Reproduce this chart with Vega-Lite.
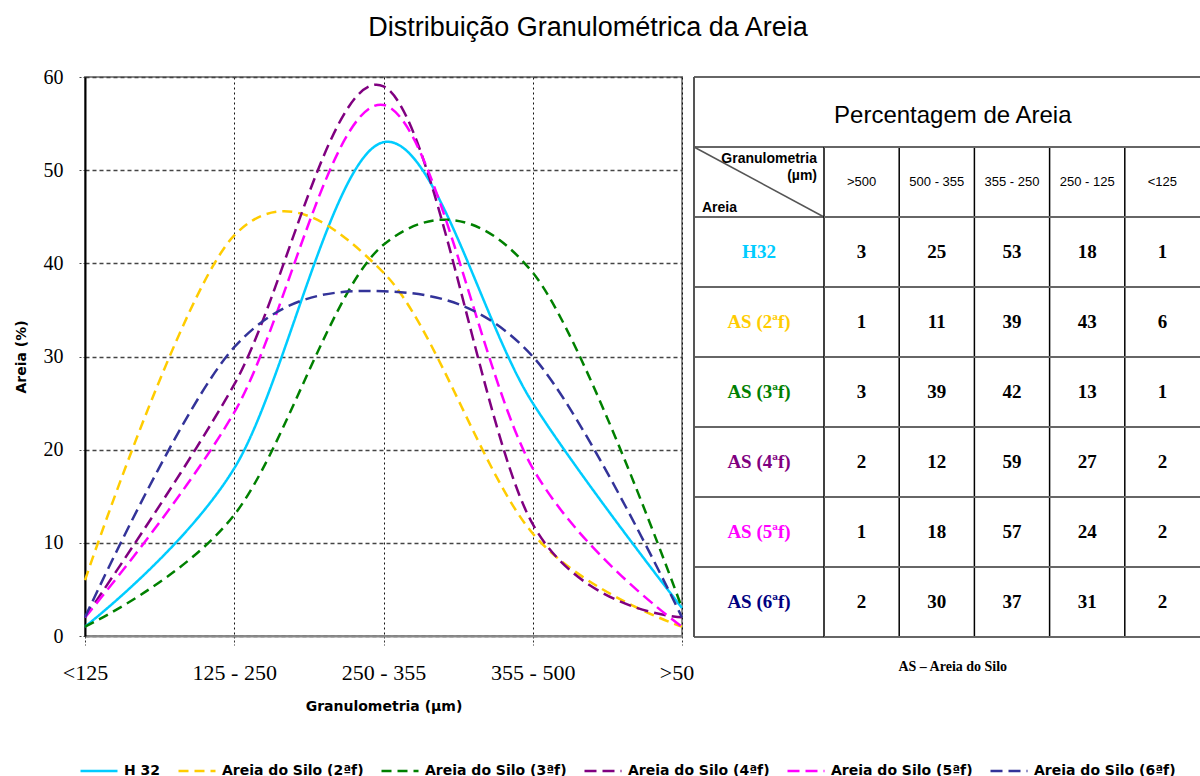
{
  "$schema": "https://vega.github.io/schema/vega-lite/v6.json",
  "background": "white",
  "padding": {"left": 13, "top": 14, "right": 0, "bottom": 0},
  "bounds": "flush",
  "spacing": 12,
  "title": {"text": "Distribuição Granulométrica da Areia", "font": "Liberation Sans", "fontSize": 27, "fontWeight": "normal", "color": "#000", "anchor": "middle", "offset": 24, "dx": -19},
  "datasets": {
    "dist": [
      {"serie": "H 32", "gran": "<125", "pct": 1},
      {"serie": "H 32", "gran": "125 - 250", "pct": 18},
      {"serie": "H 32", "gran": "250 - 355", "pct": 53},
      {"serie": "H 32", "gran": "355 - 500", "pct": 25},
      {"serie": "H 32", "gran": ">500", "pct": 3},
      {"serie": "Areia do Silo (2ªf)", "gran": "<125", "pct": 6},
      {"serie": "Areia do Silo (2ªf)", "gran": "125 - 250", "pct": 43},
      {"serie": "Areia do Silo (2ªf)", "gran": "250 - 355", "pct": 39},
      {"serie": "Areia do Silo (2ªf)", "gran": "355 - 500", "pct": 11},
      {"serie": "Areia do Silo (2ªf)", "gran": ">500", "pct": 1},
      {"serie": "Areia do Silo (3ªf)", "gran": "<125", "pct": 1},
      {"serie": "Areia do Silo (3ªf)", "gran": "125 - 250", "pct": 13},
      {"serie": "Areia do Silo (3ªf)", "gran": "250 - 355", "pct": 42},
      {"serie": "Areia do Silo (3ªf)", "gran": "355 - 500", "pct": 39},
      {"serie": "Areia do Silo (3ªf)", "gran": ">500", "pct": 3},
      {"serie": "Areia do Silo (4ªf)", "gran": "<125", "pct": 2},
      {"serie": "Areia do Silo (4ªf)", "gran": "125 - 250", "pct": 27},
      {"serie": "Areia do Silo (4ªf)", "gran": "250 - 355", "pct": 59},
      {"serie": "Areia do Silo (4ªf)", "gran": "355 - 500", "pct": 12},
      {"serie": "Areia do Silo (4ªf)", "gran": ">500", "pct": 2},
      {"serie": "Areia do Silo (5ªf)", "gran": "<125", "pct": 2},
      {"serie": "Areia do Silo (5ªf)", "gran": "125 - 250", "pct": 24},
      {"serie": "Areia do Silo (5ªf)", "gran": "250 - 355", "pct": 57},
      {"serie": "Areia do Silo (5ªf)", "gran": "355 - 500", "pct": 18},
      {"serie": "Areia do Silo (5ªf)", "gran": ">500", "pct": 1},
      {"serie": "Areia do Silo (6ªf)", "gran": "<125", "pct": 2},
      {"serie": "Areia do Silo (6ªf)", "gran": "125 - 250", "pct": 31},
      {"serie": "Areia do Silo (6ªf)", "gran": "250 - 355", "pct": 37},
      {"serie": "Areia do Silo (6ªf)", "gran": "355 - 500", "pct": 30},
      {"serie": "Areia do Silo (6ªf)", "gran": ">500", "pct": 2}
    ],
    "tab": [
      {"r": "H 32", "rotulo": "H32"},
      {"r": "Areia do Silo (2ªf)", "rotulo": "AS (2ªf)"},
      {"r": "Areia do Silo (3ªf)", "rotulo": "AS (3ªf)"},
      {"r": "Areia do Silo (4ªf)", "rotulo": "AS (4ªf)"},
      {"r": "Areia do Silo (5ªf)", "rotulo": "AS (5ªf)"},
      {"r": "Areia do Silo (6ªf)", "rotulo": "AS (6ªf)"}
    ],
    "cols": [
      {"col": ">500", "hdr": ">500"},
      {"col": "355 - 500", "hdr": "500 - 355"},
      {"col": "250 - 355", "hdr": "355 - 250"},
      {"col": "125 - 250", "hdr": "250 - 125"},
      {"col": "<125", "hdr": "<125"}
    ],
    "hlinhas": [{"e": "e0"}, {"e": "e1"}, {"e": "e2"}, {"e": "e3"}, {"e": "e4"}, {"e": "e5"}, {"e": "e6"}, {"e": "e7"}, {"e": "e8"}],
    "vlinhas": [{"v": "v0"}, {"v": "v1"}, {"v": "v2"}, {"v": "v3"}, {"v": "v4"}]
  },
  "hconcat": [
    {
      "width": 597,
      "height": 559,
      "view": {"stroke": "#8a8a8a", "strokeWidth": 2, "fill": "white"},
      "data": {"name": "dist"},
      "mark": {"type": "line", "interpolate": "cardinal", "strokeWidth": 2.5},
      "encoding": {
        "x": {
          "field": "gran", "type": "ordinal",
          "sort": ["<125", "125 - 250", "250 - 355", "355 - 500", ">500"],
          "scale": {"type": "point", "padding": 0},
          "axis": {"title": "Granulometria (µm)", "labelAngle": 0, "labelFont": "Liberation Serif", "labelFontSize": 22, "labelColor": "#000", "labelPadding": 17, "tickSize": 9, "tickColor": "#333", "tickDash": [2, 2], "tickWidth": 1, "domainColor": "#8a8a8a", "domainWidth": 2, "grid": true, "gridColor": "#111", "gridDash": [2, 3], "gridWidth": 1, "titleFont": "DejaVu Sans", "titleFontSize": 14, "titleFontWeight": "bold", "titleColor": "#000", "titlePadding": 16}
        },
        "y": {
          "field": "pct", "type": "quantitative",
          "scale": {"domain": [0, 60], "nice": false},
          "axis": {"title": "Areia (%)", "values": [0, 10, 20, 30, 40, 50, 60], "labelFont": "Liberation Serif", "labelFontSize": 20, "labelColor": "#000", "labelPadding": 14, "tickSize": 8, "tickColor": "#444", "tickDash": [2, 2], "domainColor": "#000", "domainWidth": 2, "grid": true, "gridColor": "#444", "gridDash": [4, 3], "gridWidth": 1.5, "titleFont": "DejaVu Sans", "titleFontSize": 14, "titleFontWeight": "bold", "titleColor": "#000", "titlePadding": 15}
        },
        "color": {
          "field": "serie", "type": "nominal",
          "scale": {"domain": ["H 32", "Areia do Silo (2ªf)", "Areia do Silo (3ªf)", "Areia do Silo (4ªf)", "Areia do Silo (5ªf)", "Areia do Silo (6ªf)"], "range": ["#00CCFF", "#FFCC00", "#008000", "#800080", "#FF00FF", "#333399"]},
          "legend": {
            "orient": "none", "legendX": -6, "legendY": 674, "direction": "horizontal", "columns": 6, "title": null,
            "symbolType": "stroke", "symbolSize": 1369, "symbolStrokeWidth": 2.5,
            "labelFont": "DejaVu Sans", "labelFontSize": 14, "labelFontWeight": "bold", "labelColor": "#000", "labelOffset": 5, "columnPadding": 12, "labelLimit": 300, "padding": 0,
            "encode": {"symbols": {"update": {"strokeDash": {"signal": "datum.value === 'H 32' ? [1, 0] : [13, 10]"}}}}
          }
        },
        "strokeDash": {
          "field": "serie", "type": "nominal",
          "scale": {"domain": ["H 32", "Areia do Silo (2ªf)", "Areia do Silo (3ªf)", "Areia do Silo (4ªf)", "Areia do Silo (5ªf)", "Areia do Silo (6ªf)"], "range": [[1, 0], [10, 6], [10, 6], [12, 6], [12, 6], [12, 6]]},
          "legend": null
        }
      }
    },
    {
      "spacing": 0,
      "bounds": "flush",
      "hconcat": [
        {
          "width": 130,
          "height": 630,
          "view": {"fill": "white", "stroke": null},
          "layer": [
            {
              "data": {"name": "hlinhas"},
              "mark": {"type": "rule", "color": "#666", "strokeWidth": 2},
              "encoding": {
                "y": {"field": "e", "type": "ordinal", "scale": {"type": "point", "padding": 0, "domain": ["e0", "title", "e1", "hdr", "e2", "H 32", "e3", "Areia do Silo (2ªf)", "e4", "Areia do Silo (3ªf)", "e5", "Areia do Silo (4ªf)", "e6", "Areia do Silo (5ªf)", "e7", "Areia do Silo (6ªf)", "e8", "f1", "f2"]}, "axis": null}
              }
            },
            {
              "data": {"values": [{}]},
              "mark": {"type": "rule", "color": "#555", "strokeWidth": 2},
              "encoding": {
                "x": {"datum": "c0", "type": "ordinal", "scale": {"type": "point", "padding": 0, "domain": ["c0", "lab", "c1"]}, "axis": null},
                "y": {"datum": "e0", "type": "ordinal", "axis": null},
                "y2": {"datum": "e8"}
              }
            },
            {
              "data": {"values": [{}]},
              "mark": {"type": "rule", "color": "#555", "strokeWidth": 1.5},
              "encoding": {
                "x": {"datum": "c0", "type": "ordinal", "axis": null},
                "x2": {"datum": "c1"},
                "y": {"datum": "e1", "type": "ordinal", "axis": null},
                "y2": {"datum": "e2"}
              }
            },
            {
              "data": {"values": [{}]},
              "mark": {"type": "text", "text": "Granulometria", "font": "Liberation Sans", "fontWeight": "bold", "fontSize": 14, "align": "right", "dx": -7, "dy": 12, "color": "#000"},
              "encoding": {"x": {"datum": "c1", "type": "ordinal", "axis": null}, "y": {"datum": "e1", "type": "ordinal", "axis": null}}
            },
            {
              "data": {"values": [{}]},
              "mark": {"type": "text", "text": "(µm)", "font": "Liberation Sans", "fontWeight": "bold", "fontSize": 14, "align": "right", "dx": -7, "dy": 29, "color": "#000"},
              "encoding": {"x": {"datum": "c1", "type": "ordinal", "axis": null}, "y": {"datum": "e1", "type": "ordinal", "axis": null}}
            },
            {
              "data": {"values": [{}]},
              "mark": {"type": "text", "text": "Areia", "font": "Liberation Sans", "fontWeight": "bold", "fontSize": 14, "align": "left", "dx": 8, "dy": -9, "color": "#000"},
              "encoding": {"x": {"datum": "c0", "type": "ordinal", "axis": null}, "y": {"datum": "e2", "type": "ordinal", "axis": null}}
            },
            {
              "data": {"name": "tab"},
              "mark": {"type": "text", "font": "Liberation Serif", "fontWeight": "bold", "fontSize": 19},
              "encoding": {
                "x": {"datum": "lab", "type": "ordinal", "axis": null},
                "y": {"field": "r", "type": "ordinal", "axis": null},
                "text": {"field": "rotulo"},
                "color": {"field": "r", "type": "nominal", "scale": {"domain": ["H 32", "Areia do Silo (2ªf)", "Areia do Silo (3ªf)", "Areia do Silo (4ªf)", "Areia do Silo (5ªf)", "Areia do Silo (6ªf)"], "range": ["#00CCFF", "#FFCC00", "#008000", "#800080", "#FF00FF", "#000080"]}, "legend": null}
              }
            }
          ]
        },
        {
          "width": 376,
          "height": 630,
          "view": {"fill": "white", "stroke": null},
          "layer": [
            {
              "data": {"name": "vlinhas"},
              "mark": {"type": "rule", "color": "#000", "strokeWidth": 1.5},
              "encoding": {
                "x": {"field": "v", "type": "ordinal", "scale": {"type": "point", "padding": 0, "domain": ["v0", ">500", "v1", "355 - 500", "v2", "250 - 355", "v3", "125 - 250", "v4", "<125", "v5"]}, "axis": null},
                "y": {"datum": "e1", "type": "ordinal", "scale": {"type": "point", "padding": 0, "domain": ["e0", "title", "e1", "hdr", "e2", "H 32", "e3", "Areia do Silo (2ªf)", "e4", "Areia do Silo (3ªf)", "e5", "Areia do Silo (4ªf)", "e6", "Areia do Silo (5ªf)", "e7", "Areia do Silo (6ªf)", "e8", "f1", "f2"]}, "axis": null},
                "y2": {"datum": "e8"}
              }
            },
            {
              "data": {"name": "hlinhas"},
              "mark": {"type": "rule", "color": "#666", "strokeWidth": 2},
              "encoding": {"y": {"field": "e", "type": "ordinal", "axis": null}}
            },
            {
              "data": {"values": [{}]},
              "mark": {"type": "text", "text": "Percentagem de Areia", "font": "Liberation Sans", "fontSize": 24, "dx": 16, "dy": 4, "color": "#000"},
              "encoding": {"x": {"datum": "355 - 500", "type": "ordinal", "axis": null}, "y": {"datum": "title", "type": "ordinal", "axis": null}}
            },
            {
              "data": {"name": "cols"},
              "mark": {"type": "text", "font": "Liberation Sans", "fontSize": 13, "color": "#000"},
              "encoding": {"x": {"field": "col", "type": "ordinal", "axis": null}, "y": {"datum": "hdr", "type": "ordinal", "axis": null}, "text": {"field": "hdr"}}
            },
            {
              "data": {"name": "dist"},
              "mark": {"type": "text", "font": "Liberation Serif", "fontWeight": "bold", "fontSize": 19, "color": "#000"},
              "encoding": {"x": {"field": "gran", "type": "ordinal", "axis": null}, "y": {"field": "serie", "type": "ordinal", "axis": null}, "text": {"field": "pct"}}
            },
            {
              "data": {"values": [{}]},
              "mark": {"type": "text", "text": "AS – Areia do Silo", "font": "Liberation Serif", "fontWeight": "bold", "fontSize": 14, "dx": 16, "dy": -5, "color": "#000"},
              "encoding": {"x": {"datum": "355 - 500", "type": "ordinal", "axis": null}, "y": {"datum": "f1", "type": "ordinal", "axis": null}}
            }
          ]
        }
      ],
      "resolve": {"scale": {"x": "independent", "y": "independent", "color": "independent"}}
    }
  ],
  "resolve": {
    "scale": {"color": "independent", "strokeDash": "independent", "x": "independent", "y": "independent"},
    "legend": {"color": "independent", "strokeDash": "independent"}
  },
  "config": {"view": {"stroke": null}, "text": {"font": "Liberation Sans"}}
}
